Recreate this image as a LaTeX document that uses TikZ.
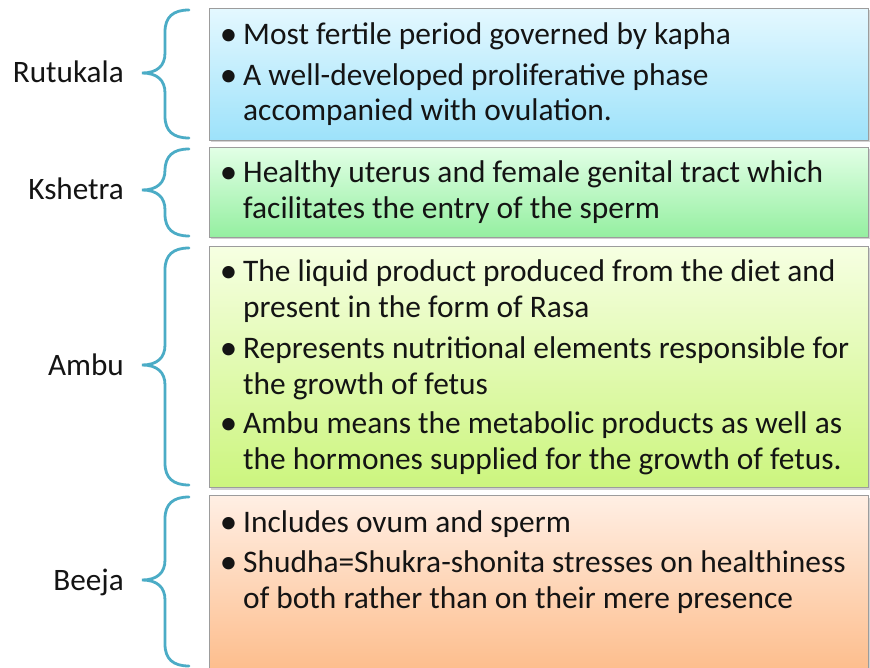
\documentclass[tikz,border=0pt]{standalone}
\usepackage{fontspec}
\setmainfont{Carlito}
\usetikzlibrary{shadows}
\definecolor{bracec}{HTML}{4BACC6}
\definecolor{boxline}{HTML}{9C9C9C}
\definecolor{txt}{HTML}{141414}
\definecolor{aTop}{HTML}{E4F8FF}
\definecolor{aBot}{HTML}{9DE2FA}
\definecolor{bTop}{HTML}{E2FFE6}
\definecolor{bBot}{HTML}{94EFA0}
\definecolor{cTop}{HTML}{F6FFE2}
\definecolor{cBot}{HTML}{CCF57E}
\definecolor{dTop}{HTML}{FFEFE4}
\definecolor{dBot}{HTML}{FDB985}
\tikzset{
  infobox/.style={draw=boxline, line width=1pt, rectangle, anchor=north west, inner sep=0pt,
    minimum width=659pt, drop shadow={shadow xshift=1.5pt, shadow yshift=-2pt, opacity=0.35}},
  linetext/.style={anchor=base west, inner sep=0pt, text=txt, font=\fontsize{31.4}{35}\selectfont},
  bullettext/.style={anchor=base, inner sep=0pt, text=txt, font=\fontsize{35}{35}\selectfont},
  labeltext/.style={anchor=base east, inner sep=0pt, text=txt, font=\fontsize{31.2}{35}\selectfont},
  bracestyle/.style={draw=bracec, line width=2.8pt, line cap=round}
}
\newcommand\myline[3]{\node[linetext] (#1) at (243,#2) {#3};}
\newcommand\mybul[2]{\node[bullettext] (#1) at (228.5,#2+1) {•};}
\newcommand\mybrace[3]{%
  \draw[bracestyle] (189,#1) .. controls (173,#1) and (165,#1+7) .. (165,#1+22)
    -- (165,#2-20) .. controls (165,#2-7) and (157,#2) .. (142,#2)
    .. controls (157,#2) and (165,#2+7) .. (165,#2+20)
    -- (165,#3-22) .. controls (165,#3-7) and (173,#3) .. (189,#3);}
\begin{document}
\begin{tikzpicture}[x=1pt,y=-1pt]
\useasboundingbox (0,0) rectangle (870,668);
\clip (0,0) rectangle (870,668);
\fill[white] (0,0) rectangle (870,668);
% boxes
\node[infobox, minimum height=132pt, top color=aTop, bottom color=aBot] (box1) at (209,8) {};
\node[infobox, minimum height=90pt, top color=bTop, bottom color=bBot] (box2) at (209,147) {};
\node[infobox, minimum height=241pt, top color=cTop, bottom color=cBot] (box3) at (209,246) {};
\node[infobox, minimum height=190pt, top color=dTop, bottom color=dBot] (box4) at (209,495) {};
% braces
\mybrace{10}{73}{138}
\mybrace{149}{190}{236}
\mybrace{248}{365}{485}
\mybrace{497}{580}{666}
% labels
\node[labeltext] (lab1) at (124,83) {Rutukala};
\node[labeltext] (lab2) at (124,200) {Kshetra};
\node[labeltext] (lab3) at (124,375) {Ambu};
\node[labeltext] (lab4) at (124,590) {Beeja};
% box 1
\mybul{p1}{45}\myline{t1}{45}{Most fertile period governed by kapha}
\mybul{p2}{86}\myline{t2}{86}{A well-developed proliferative phase}
\myline{t3}{121}{accompanied with ovulation.}
% box 2
\mybul{p3}{183}\myline{t4}{183}{Healthy uterus and female genital tract which}
\myline{t5}{219}{facilitates the entry of the sperm}
% box 3
\mybul{p4}{282}\myline{t6}{282}{The liquid product produced from the diet and}
\myline{t7}{318}{present in the form of Rasa}
\mybul{p5}{358}\myline{t8}{358}{Represents nutritional elements responsible for}
\myline{t9}{394}{the growth of fetus}
\mybul{p6}{433}\myline{t10}{433}{Ambu means the metabolic products as well as}
\myline{t11}{469}{the hormones supplied for the growth of fetus.}
% box 4
\mybul{p7}{532}\myline{t12}{532}{Includes ovum and sperm}
\mybul{p8}{572}\myline{t13}{572}{Shudha=Shukra-shonita stresses on healthiness}
\myline{t14}{608}{of both rather than on their mere presence}
\end{tikzpicture}
\end{document}
